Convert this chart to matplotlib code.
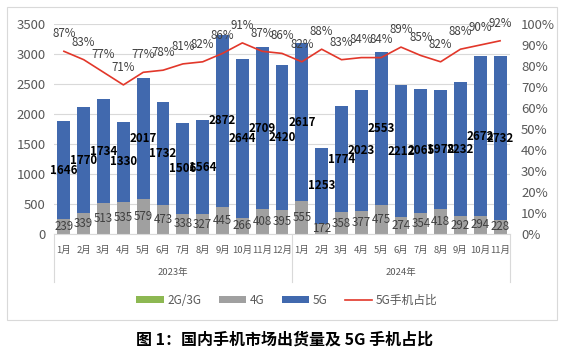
import matplotlib
matplotlib.use("Agg")
import matplotlib.pyplot as plt
from matplotlib.lines import Line2D
from matplotlib.patches import Patch
from matplotlib.transforms import blended_transform_factory
import numpy as np

plt.rcParams["font.family"] = ["Noto Sans CJK SC", "DejaVu Sans"]

months = ["1月", "2月", "3月", "4月", "5月", "6月", "7月", "8月", "9月", "10月", "11月", "12月",
          "1月", "2月", "3月", "4月", "5月", "6月", "7月", "8月", "9月", "10月", "11月"]
years = ["2023年", "2024年"]
g23 = [3, 3, 3, 3, 3, 3, 3, 3, 3, 3, 3, 3, 3, 3, 3, 3, 3, 3, 3, 3, 3, 3, 3]
g4 = [239, 339, 513, 535, 579, 473, 338, 327, 445, 266, 408, 395,
      555, 172, 358, 377, 475, 274, 354, 418, 292, 294, 228]
g5 = [1646, 1770, 1734, 1330, 2017, 1732, 1506, 1564, 2872, 2644, 2709, 2420,
      2617, 1253, 1774, 2023, 2553, 2212, 2065, 1978, 2232, 2672, 2732]
ratio = [87, 83, 77, 71, 77, 78, 81, 82, 86, 91, 87, 86,
         82, 88, 83, 84, 84, 89, 85, 82, 88, 90, 92]

C_GREEN = "#8DB852"
C_GRAY = "#A0A0A0"
C_BLUE = "#4169AE"
C_RED = "#E2372A"
C_TEXT = "#595959"

W, H = 569, 355
fig = plt.figure(figsize=(W / 100, H / 100), dpi=100)
ax = fig.add_axes([54 / W, 1 - 234 / H, (510 - 54) / W, (234 - 24) / H])

x = np.arange(len(months))
g23 = np.array(g23)
g4 = np.array(g4)
g5 = np.array(g5)
bw = 0.65
ax.bar(x, g23, bw, color=C_GREEN, zorder=2)
ax.bar(x, g4, bw, bottom=g23, color=C_GRAY, zorder=2)
ax.bar(x, g5, bw, bottom=g23 + g4, color=C_BLUE, zorder=2)

for i in x:
    ax.text(i, g23[i] + g4[i] / 2, str(g4[i]), ha="center", va="center",
            fontsize=8.3, color="#404040", zorder=4)
    ax.text(i, g23[i] + g4[i] + g5[i] / 2, str(g5[i]), ha="center", va="center",
            fontsize=8.3, color="black", fontweight="bold", zorder=4)

ax.set_xlim(-0.5, len(months) - 0.5)
ax.set_ylim(0, 3500)
ax.set_yticks(np.arange(0, 3501, 500))
ax.tick_params(axis="y", length=0, labelsize=9.5, labelcolor=C_TEXT, pad=6)
ax.set_xticks([])
ax.yaxis.grid(True, color="#D9D9D9", linewidth=0.8, zorder=0)
ax.set_axisbelow(True)
for sp in ["top", "right", "left"]:
    ax.spines[sp].set_visible(False)
ax.spines["bottom"].set_color("#D9D9D9")

ax2 = ax.twinx()
ax2.plot(x, np.array(ratio) / 100, color=C_RED, linewidth=1.2, zorder=3)
for i in x:
    ax2.annotate(f"{ratio[i]}%", (i, ratio[i] / 100), xytext=(0, 8),
                 textcoords="offset points", ha="center", va="bottom",
                 fontsize=8.3, color="#404040")
ax2.set_ylim(0, 1)
ax2.set_yticks(np.arange(0, 1.01, 0.1))
ax2.set_yticklabels([f"{int(round(v * 100))}%" for v in np.arange(0, 1.01, 0.1)])
ax2.tick_params(axis="y", length=0, labelsize=9.5, labelcolor=C_TEXT, pad=8)
for sp in ["top", "right", "left", "bottom"]:
    ax2.spines[sp].set_visible(False)

# category axis with year groups
trans = blended_transform_factory(ax.transData, ax.transAxes)
for i in x:
    ax.text(i, -0.08, months[i], transform=trans, ha="center", va="center",
            fontsize=6.8, color=C_TEXT)
for xs in [-0.5, 11.5, len(months) - 0.5]:
    ax.plot([xs, xs], [0, -0.23], transform=trans, color="#D9D9D9",
            linewidth=0.8, clip_on=False)
ax.text(5.5, -0.185, years[0], transform=trans, ha="center", va="center",
        fontsize=6.8, color=C_TEXT)
ax.text(17, -0.185, years[1], transform=trans, ha="center", va="center",
        fontsize=6.8, color=C_TEXT)

handles = [
    Patch(facecolor=C_GREEN, label="2G/3G"),
    Patch(facecolor=C_GRAY, label="4G"),
    Patch(facecolor=C_BLUE, label="5G"),
    Line2D([0], [0], color=C_RED, linewidth=1.2, label="5G手机占比"),
]
leg = fig.legend(handles=handles, loc="center", bbox_to_anchor=(287 / W, 1 - 300 / H),
                 ncol=4, frameon=False, fontsize=8.5, handlelength=2.3, handleheight=0.5,
                 columnspacing=1.5, handletextpad=0.3)
for t in leg.get_texts():
    t.set_color(C_TEXT)

# chart frame and caption
fig.add_artist(plt.Rectangle((7 / W, 1 - 320 / H), (557 - 7) / W, (320 - 7) / H,
                             transform=fig.transFigure, fill=False,
                             edgecolor="#D9D9D9", linewidth=0.8))
fig.text(285 / W, 1 - 340 / H, "图 1：国内手机市场出货量及 5G 手机占比",
         ha="center", va="center", fontsize=11.5, fontweight="bold", color="black")

fig.savefig("out.png", dpi=100, facecolor="white")
